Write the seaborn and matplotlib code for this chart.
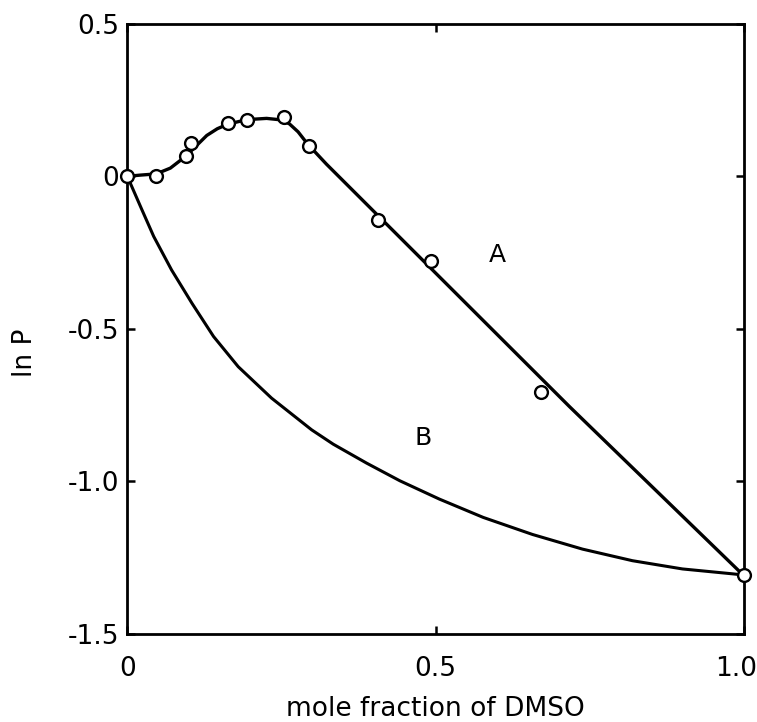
import numpy as np
import pandas as pd
import matplotlib
matplotlib.use("Agg")
import matplotlib.pyplot as plt
import matplotlib.transforms as mtransforms
import seaborn as sns

# ln P vs mole fraction of DMSO
# curve A (smooth line through the measurements)
a_line_x = [0.0, 0.021, 0.047, 0.070, 0.095, 0.112, 0.129, 0.146, 0.163, 0.194, 0.226, 0.250,
            0.263, 0.277, 0.292, 0.323, 0.717, 1.0]
a_line_y = [0.0, 0.004, 0.008, 0.027, 0.066, 0.100, 0.134, 0.156, 0.171, 0.186, 0.190, 0.185,
            0.172, 0.146, 0.107, 0.040, -0.755, -1.31]

# measured points on A
pts_x = [0.0, 0.047, 0.095, 0.103, 0.163, 0.194, 0.255, 0.295, 0.407, 0.493, 0.671, 1.0]
pts_y = [0.0, 0.002, 0.067, 0.109, 0.176, 0.185, 0.193, 0.100, -0.143, -0.279, -0.706, -1.307]

# curve B
b_x = [0.0, 0.005, 0.024, 0.043, 0.072, 0.105, 0.140, 0.180, 0.234, 0.299, 0.334, 0.388,
       0.442, 0.506, 0.577, 0.657, 0.738, 0.819, 0.900, 0.981, 1.0]
b_y = [0.0, -0.022, -0.110, -0.197, -0.307, -0.416, -0.525, -0.624, -0.727, -0.831, -0.878, -0.940,
       -0.998, -1.058, -1.118, -1.174, -1.222, -1.260, -1.287, -1.303, -1.307]

x_ticks = [0, 0.5, 1.0]
x_ticklabels = ["0", "0.5", "1.0"]
y_ticks = [-1.5, -1.0, -0.5, 0, 0.5]
y_ticklabels = ["-1.5", "-1.0", "-0.5", "0", "0.5"]

sns.set_style("ticks")
plt.rcParams['font.family'] = ['DejaVu Sans']
plt.rcParams['text.color'] = 'black'
plt.rcParams['axes.labelcolor'] = 'black'

fig = plt.figure(figsize=(7.57, 7.22), dpi=100)
ax = fig.add_axes([0.168, 0.122, 0.815, 0.845])

df_a = pd.DataFrame({"x": a_line_x, "y": a_line_y})
df_b = pd.DataFrame({"x": b_x, "y": b_y})
df_p = pd.DataFrame({"x": pts_x, "y": pts_y})

sns.lineplot(data=df_a, x="x", y="y", sort=False, color="black", lw=2.4, ax=ax)
sns.lineplot(data=df_b, x="x", y="y", sort=False, color="black", lw=2.2, ax=ax)
sns.scatterplot(data=df_p, x="x", y="y", s=85, facecolor="white", edgecolor="black",
                linewidth=1.7, zorder=5, clip_on=False, ax=ax)

ax.text(0.60, -0.257, "A", fontsize=18, ha="center", va="center")
ax.text(0.48, -0.858, "B", fontsize=18, ha="center", va="center")

ax.set_xlim(0, 1.0)
ax.set_ylim(-1.5, 0.5)
ax.set_xticks(x_ticks)
ax.set_xticklabels(x_ticklabels)
ax.set_yticks(y_ticks)
ax.set_yticklabels(y_ticklabels)
ax.tick_params(direction="in", length=6, width=1.8, labelsize=19,
               top=True, right=True, color="black", labelcolor="black")
ax.tick_params(axis="x", pad=16)
ax.tick_params(axis="y", pad=6)

# last x label sits at the figure edge, nudge it in a little
lbl = ax.get_xticklabels()[-1]
lbl.set_transform(lbl.get_transform() + mtransforms.ScaledTranslation(-8 / 100, 0, fig.dpi_scale_trans))

for sp in ax.spines.values():
    sp.set_linewidth(2)
    sp.set_color("black")

ax.set_xlabel("mole fraction of DMSO", fontsize=19, labelpad=10)
ax.set_ylabel("ln P", fontsize=19)
ax.yaxis.set_label_coords(-0.145, 0.46)

fig.savefig("out.png", dpi=100)
